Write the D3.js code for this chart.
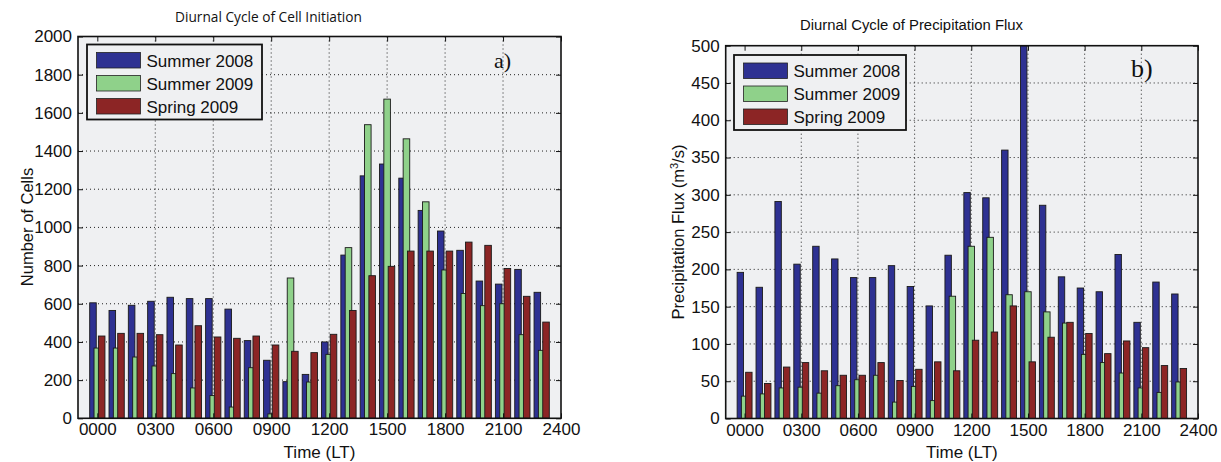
<!DOCTYPE html>
<html>
<head>
<meta charset="utf-8">
<script src="https://cdn.jsdelivr.net/npm/d3@7"></script>
<style>
  html, body { margin: 0; padding: 0; background: #ffffff; }
  svg { display: block; }
  text { font-family: "Liberation Sans", Arial, sans-serif; fill: #111; }
</style>
</head>
<body>
<svg id="chart" width="1221" height="462"></svg>
<script>
// Local time of each hourly bin (HHMM)
const hours = [0, 100, 200, 300, 400, 500, 600, 700, 800, 900, 1000, 1100,
               1200, 1300, 1400, 1500, 1600, 1700, 1800, 1900, 2000, 2100, 2200, 2300];
const timeTicks = [0, 300, 600, 900, 1200, 1500, 1800, 2100, 2400];
const seriesNames = ["Summer 2008", "Summer 2009", "Spring 2009"];
const seriesColors = ["#2e3192", "#8fd18a", "#8c2525"];

// Panel a) number of initiated cells per hour
const cellsSummer2008 = [605, 565, 592, 613, 634, 627, 627, 572, 407, 304, 192, 230,
                         400, 855, 1270, 1332, 1258, 1089, 981, 880, 719, 703, 780, 660];
const cellsSummer2009 = [368, 368, 321, 274, 234, 159, 119, 59, 265, 23, 735, 190,
                         335, 894, 1538, 1672, 1464, 1134, 777, 654, 590, 600, 438, 356];
const cellsSpring2009 = [431, 445, 445, 438, 384, 485, 426, 419, 431, 384, 351, 344,
                         440, 565, 747, 796, 876, 876, 876, 923, 906, 785, 639, 504];
const cellTicks = [0, 200, 400, 600, 800, 1000, 1200, 1400, 1600, 1800, 2000];

// Panel b) precipitation flux per hour (m^3/s)
const fluxSummer2008 = [196, 176, 291, 207, 231, 214, 189, 189, 205, 177, 151, 219,
                        303, 296, 360, 500, 286, 190, 175, 170, 220, 129, 183, 167];
const fluxSummer2009 = [30, 33, 41, 42, 34, 44, 52, 58, 22, 43, 24, 164,
                        231, 243, 166, 170, 143, 128, 86, 75, 61, 41, 35, 49];
const fluxSpring2009 = [62, 47, 69, 75, 64, 58, 58, 75, 51, 66, 76, 64,
                        105, 116, 151, 76, 109, 129, 114, 87, 104, 95, 71, 67];
const fluxTicks = [0, 50, 100, 150, 200, 250, 300, 350, 400, 450, 500];

const svg = d3.select("#chart");
const axisBg = "#eff0f2";

// scale a text's font size so that it spans the given width
function fitWidth(sel, width) {
  const fs = parseFloat(sel.style("font-size"));
  const w = sel.node().getComputedTextLength();
  if (w > 0) sel.style("font-size", (fs * width / w).toFixed(2) + "px");
}

function drawPanel(p) {
  const x = d3.scaleLinear().domain([-100, 2400]).range([p.left, p.right]);
  const y = d3.scaleLinear().domain([0, p.yMax]).range([p.bottom, p.top]);
  const g = svg.append("g");

  // axes background
  g.append("rect")
    .attr("x", p.left).attr("y", p.top)
    .attr("width", p.right - p.left).attr("height", p.bottom - p.top)
    .attr("fill", axisBg);

  // dotted grid
  const grid = g.append("g").attr("stroke", "#222").attr("stroke-width", 1)
    .attr("stroke-dasharray", "1,3");
  grid.selectAll("line.v").data(timeTicks.slice(1, -1)).join("line")
    .attr("x1", d => x(d)).attr("x2", d => x(d))
    .attr("y1", p.top).attr("y2", p.bottom);
  grid.selectAll("line.h").data(p.yTicks.slice(1, -1)).join("line")
    .attr("x1", p.left).attr("x2", p.right)
    .attr("y1", d => y(d)).attr("y2", d => y(d));

  // grouped bars: drawn series by series so each overlaps the previous one
  const clipId = "clip-" + p.id;
  g.append("clipPath").attr("id", clipId).append("rect")
    .attr("x", p.left).attr("y", p.top)
    .attr("width", p.right - p.left).attr("height", p.bottom - p.top);
  const bars = g.append("g").attr("clip-path", `url(#${clipId})`);
  const offsets = [-22.5, 0, 22.5];
  const bw = x(34) - x(0);
  p.series.forEach((vals, si) => {
    bars.append("g").selectAll("rect").data(vals).join("rect")
      .attr("x", (d, i) => x(hours[i] + offsets[si]) - bw / 2)
      .attr("y", d => y(d))
      .attr("width", bw)
      .attr("height", d => y(0) - y(d))
      .attr("fill", seriesColors[si])
      .attr("stroke", "#1a1a1a")
      .attr("stroke-width", 0.9);
  });

  // axes with inward ticks on all four sides
  const tickFont = g => g.selectAll("text")
    .style("font-family", "'Liberation Sans', Arial, sans-serif")
    .style("font-size", "17px").attr("fill", "#111");
  const styleAxis = a => { a.select(".domain").remove(); a.selectAll("line").attr("stroke", "#111"); };

  g.append("g").attr("transform", `translate(0,${p.bottom})`)
    .call(d3.axisBottom(x).tickValues(timeTicks).tickFormat(d3.format("04d"))
      .tickSizeInner(-5).tickSizeOuter(0).tickPadding(5))
    .call(styleAxis).call(tickFont);
  g.append("g").attr("transform", `translate(0,${p.top})`)
    .call(d3.axisTop(x).tickValues(timeTicks).tickFormat("")
      .tickSizeInner(-5).tickSizeOuter(0))
    .call(styleAxis);
  g.append("g").attr("transform", `translate(${p.left},0)`)
    .call(d3.axisLeft(y).tickValues(p.yTicks).tickFormat(d3.format("d"))
      .tickSizeInner(-5).tickSizeOuter(0).tickPadding(6))
    .call(styleAxis).call(tickFont);
  g.append("g").attr("transform", `translate(${p.right},0)`)
    .call(d3.axisRight(y).tickValues(p.yTicks).tickFormat("")
      .tickSizeInner(-5).tickSizeOuter(0))
    .call(styleAxis);

  // frame
  g.append("rect")
    .attr("x", p.left).attr("y", p.top)
    .attr("width", p.right - p.left).attr("height", p.bottom - p.top)
    .attr("fill", "none").attr("stroke", "#111").attr("stroke-width", 1.6);

  // legend
  const lg = g.append("g").attr("transform", `translate(${p.legendX},${p.legendY})`);
  lg.append("rect").attr("width", p.legendW).attr("height", 75)
    .attr("fill", axisBg).attr("stroke", "#111").attr("stroke-width", 1.8);
  seriesNames.forEach((name, i) => {
    lg.append("rect").attr("x", 9.5).attr("y", 8 + i * 23)
      .attr("width", 44).attr("height", 15.5)
      .attr("fill", seriesColors[i]).attr("stroke", "#222").attr("stroke-width", 0.8);
    lg.append("text").attr("x", 59.5).attr("y", 22 + i * 23)
      .style("font-size", "17px").text(name);
  });

  // panel letter
  g.append("text").attr("x", p.letterX).attr("y", p.letterY)
    .style("font-family", "'Liberation Serif', 'Times New Roman', serif")
    .style("font-size", p.letterSize + "px").text(p.letter);

  // axis titles
  g.append("text").attr("x", (p.left + p.right) / 2).attr("y", 458)
    .attr("text-anchor", "middle").style("font-size", "17px").text("Time (LT)");
  return { g, x, y };
}

// panel a)
const a = drawPanel({
  id: "a", left: 78, right: 561, top: 36.5, bottom: 418.3, yMax: 2000,
  yTicks: cellTicks, series: [cellsSummer2008, cellsSummer2009, cellsSpring2009],
  legendX: 87, legendY: 44.5, legendW: 175,
  letter: "a)", letterX: 494, letterY: 68, letterSize: 22
});
a.g.append("text")
  .attr("transform", "translate(33,227) rotate(-90)")
  .attr("text-anchor", "middle").style("font-size", "16.5px").text("Number of Cells");
a.g.append("text").attr("x", 268.5).attr("y", 22)
  .attr("text-anchor", "middle")
  .style("font-family", "'Open Sans', 'Noto Sans', sans-serif").style("font-size", "13px")
  .text("Diurnal Cycle of Cell Initiation")
  .call(fitWidth, 187);

// panel b)
const b = drawPanel({
  id: "b", left: 725.7, right: 1198, top: 45.7, bottom: 418.5, yMax: 500,
  yTicks: fluxTicks, series: [fluxSummer2008, fluxSummer2009, fluxSpring2009],
  legendX: 734, legendY: 55, legendW: 172,
  letter: "b)", letterX: 1131, letterY: 77, letterSize: 26
});
const yl = b.g.append("text")
  .attr("transform", "translate(684,232) rotate(-90)")
  .attr("text-anchor", "middle").style("font-size", "16.5px");
yl.append("tspan").text("Precipitation Flux (m");
yl.append("tspan").attr("dy", -6).style("font-size", "11px").text("3");
yl.append("tspan").attr("dy", 6).text("/s)");
b.g.append("text").attr("x", 911.5).attr("y", 29.5)
  .attr("text-anchor", "middle").style("font-size", "14px")
  .text("Diurnal Cycle of Precipitation Flux")
  .call(fitWidth, 223);
</script>
</body>
</html>
